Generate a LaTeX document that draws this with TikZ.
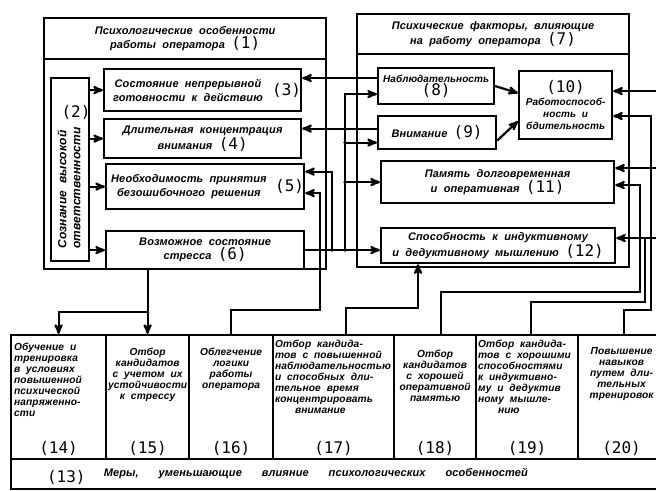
\documentclass[tikz,border=0pt]{standalone}
\usepackage{fontspec}
\setmainfont{Liberation Sans}
\newfontfamily\gost[LetterSpace=1, WordSpace=2]{Liberation Sans}
\newfontfamily\gostnum{DejaVu Sans Mono}
\usetikzlibrary{positioning}
\usetikzlibrary{arrows}

\newcommand{\nr}[1]{{\upshape\mdseries\gostnum\fontsize{16}{15}\selectfont(#1)}}
\newcommand{\gap}{\hspace{20pt}}

\tikzset{
	frame/.style={draw, anchor=north west, inner sep=1pt},
	txt/.style={font=\gost\bfseries\itshape\fontsize{11}{14}\selectfont, align=center, inner sep=1pt},
	sml/.style={font=\gost\bfseries\itshape\fontsize{10.2}{11}\selectfont, inner sep=0pt},
	num/.style={font=\gostnum\fontsize{16}{15}\selectfont, inner sep=0pt},
	jn/.style={circle, fill, inner sep=1.3pt},
}

\begin{document}
\begin{tikzpicture}[x=1pt, y=-1pt, line width=2.2pt, ->,>=stealth']
	\useasboundingbox (0,0) rectangle (656,490);
	\clip (0,0) rectangle (656,490);

	% psychological features
	\node[frame, minimum width=282, minimum height=251] (o1) at (43,17) {};
	\node[frame, txt, minimum width=282, minimum height=41] (h1) at (43,17) {Психологические особенности\\ работы оператора \nr{1}};
	\node[frame, minimum width=38, minimum height=183] (b2) at (50,77) {};
	\node[txt, rotate=90, align=left, font=\gost\bfseries\itshape\fontsize{12}{14}\selectfont] (t2) at (69,188) {Сознание высокой\\ответственности};
	\node[num] (n2) at (76,112) {(2)};
	\node[frame, minimum width=197, minimum height=42] (b3) at (103,68) {};
	\node[txt, right=8pt of b3.west] (t3) {Состояние непрерывной\\ готовности к действию};
	\node[num, left=0pt of b3.east] (n3) {(3)};
	\node[frame, txt, minimum width=197, minimum height=39] (b4) at (103,118) {Длительная концентрация\\ внимания \nr{4}};
	\node[frame, minimum width=198, minimum height=45] (b5) at (105,163) {};
	\node[txt, right=4pt of b5.west] (t5) {Необходимость принятия\\ безошибочного решения};
	\node[num, left=0pt of b5.east] (n5) {(5)};
	\node[frame, txt, minimum width=198, minimum height=38] (b6) at (105,230) {Возможное состояние\\ стресса \nr{6}};

	% psychic factors
	\node[frame, minimum width=272, minimum height=253] (o7) at (356,13) {};
	\node[frame, txt, minimum width=272, minimum height=40] (h7) at (356,13) {Психические факторы, влияющие\\ на работу оператора \nr{7}};
	\node[frame, txt, minimum width=116, minimum height=36, font=\gost\bfseries\itshape\fontsize{10}{13}\selectfont] (b8) at (377,67) {Наблюдательность\\ \nr{8}};
	\node[frame, txt, minimum width=118, minimum height=33] (b9) at (377,115) {Внимание \nr{9}};
	\node[frame, txt, minimum width=93, minimum height=68, font=\gost\bfseries\itshape\fontsize{10}{12}\selectfont] (b10) at (518,70) {\nr{10}\\[1pt] Работоспособ-\\ность и\\ бдительность};
	\node[frame, txt, minimum width=233, minimum height=42] (b11) at (380,160) {Память долговременная\\ и оперативная \nr{11}};
	\node[frame, txt, minimum width=234, minimum height=35] (b12) at (380,227) {Способность к индуктивному\\ и дедуктивному мышлению \nr{12}};

	% measures
	\node[frame, minimum width=95, minimum height=124] (b14) at (10,334) {};
	\node[frame, minimum width=83, minimum height=124] (b15) at (105,334) {};
	\node[frame, minimum width=84, minimum height=124] (b16) at (188,334) {};
	\node[frame, minimum width=121, minimum height=124] (b17) at (272,334) {};
	\node[frame, minimum width=82, minimum height=124] (b18) at (393,334) {};
	\node[frame, minimum width=102, minimum height=124] (b19) at (475,334) {};
	\node[frame, minimum width=87, minimum height=124] (b20) at (577,334) {};
	\node[frame, minimum width=654, minimum height=30] (b13) at (10,458) {};

	\node[sml, align=left, below right=8pt and 3pt of b14.north west] (t14) {Обучение и\\ тренировка\\ в условиях\\ повышенной\\ психической\\ напряженно-\\сти};
	\node[sml, align=center, below=13pt of b15.north] (t15) {Отбор\\ кандидатов\\ с учетом их\\ устойчивости\\ к стрессу};
	\node[sml, align=center, below=13pt of b16.north] (t16) {Облегчение\\ логики\\ работы\\ оператора};
	\node[sml, align=left, below right=5pt and 2pt of b17.north west] (t17) {Отбор кандида-\\тов с повышенной\\ наблюдательностью\\ и способных дли-\\тельное время\\ концентрировать\\ \gap внимание};
	\node[sml, align=center, below=15pt of b18.north] (t18) {Отбор\\ кандидатов\\ с хорошей\\ оперативной\\ памятью};
	\node[sml, align=left, below right=5pt and 2pt of b19.north west] (t19) {Отбор кандида-\\тов с хорошими\\ способностями\\ к индуктивно-\\му и дедуктив\\ному мышле-\\ \gap нию};
	\node[sml, align=center, below=12pt of b20.north] (t20) {Повышение\\ навыков\\ путем дли-\\тельных\\ тренировок};
	\foreach \k in {14,...,20}
		\node[num, above=3pt of b\k.south] (n\k) {(\k)};
	\node[num, right=36pt of b13.west, yshift=-3pt] (n13) {(13)};
	\node[sml, font=\gost\bfseries\itshape\fontsize{11}{12}\selectfont, right=16pt of n13, yshift=4pt] (t13) {Меры,\gap уменьшающие\gap влияние\gap психологических\gap особенностей};

	% connectors
	\foreach \b in {b3,b4,b5,b6}
		\draw (b2.east |- \b.west) -- (\b.west);
	\coordinate (p8) at ([yshift=8]b8.west);
	\coordinate (p9) at ([yshift=4]b9.west);
	\draw (p8) -- (p8 -| b3.east);
	\draw (p9) -- (p9 -| b4.east);
	\draw (b8.east) -- ([yshift=12]b10.west);
	\draw ([yshift=-8]b9.east) -- ([yshift=-16]b10.west);

	\coordinate (bus) at (345,0);
	\coordinate (up5) at (332,0);
	\coordinate (q9) at ([yshift=-10]b9.west);
	\draw (b6.east) -- (b6.east -| b12.west);
	\draw (bus |- b6.east) |- ([yshift=-8]b8.west);
	\draw (bus |- q9) -- (q9);
	\draw (bus |- b11.west) -- (b11.west);
	\draw (up5 |- b6.east) |- ([yshift=15]b5.east);
	\node[jn] (d1) at (bus |- b6.east) {};
	\node[jn] (d2) at (up5 |- b6.east) {};
	\node[jn] (d3) at (bus |- q9) {};
	\node[jn] (d4) at (bus |- b11.west) {};

	\coordinate (s6) at (b6.south -| b15.north);
	\coordinate (j6) at ([yshift=-42]s6);
	\draw (s6) -- (b15.north);
	\draw (j6) -| (b14.north);
	\node[jn] (d5) at (j6) {};

	\coordinate (r16) at (320,310);
	\draw (b16.north) |- (r16) |- ([yshift=-6.5]b5.east);

	\coordinate (o17) at ([xshift=12]b17.north);
	\coordinate (q12) at (418,0);
	\draw (o17) -- ++(0,-26) -| (q12 |- b12.south);

	\coordinate (o18) at ([xshift=6]b18.north);
	\coordinate (r18) at (640,292);
	\draw (o18) |- (r18) |- ([yshift=-3]b11.east);

	\coordinate (o19) at ([xshift=4]b19.north);
	\coordinate (r19) at (645,302);
	\coordinate (q12r) at ([yshift=7.5]b12.east);
	\coordinate (edge) at (662,0);
	\draw (o19) |- (r19) |- (q12r);
	\draw[-] (edge |- q12r) -- (r19 |- q12r);

	\coordinate (o20) at ([xshift=2]b20.north);
	\coordinate (r20) at (651,310);
	\draw (o20) |- (r20) |- ([yshift=-11]b10.east);

	\coordinate (p10) at ([yshift=14]b10.east);
	\coordinate (p11) at ([yshift=14]b11.east);
	\draw (edge |- p10) -- (p10);
	\draw (edge |- p11) -- (p11);
\end{tikzpicture}
\end{document}
